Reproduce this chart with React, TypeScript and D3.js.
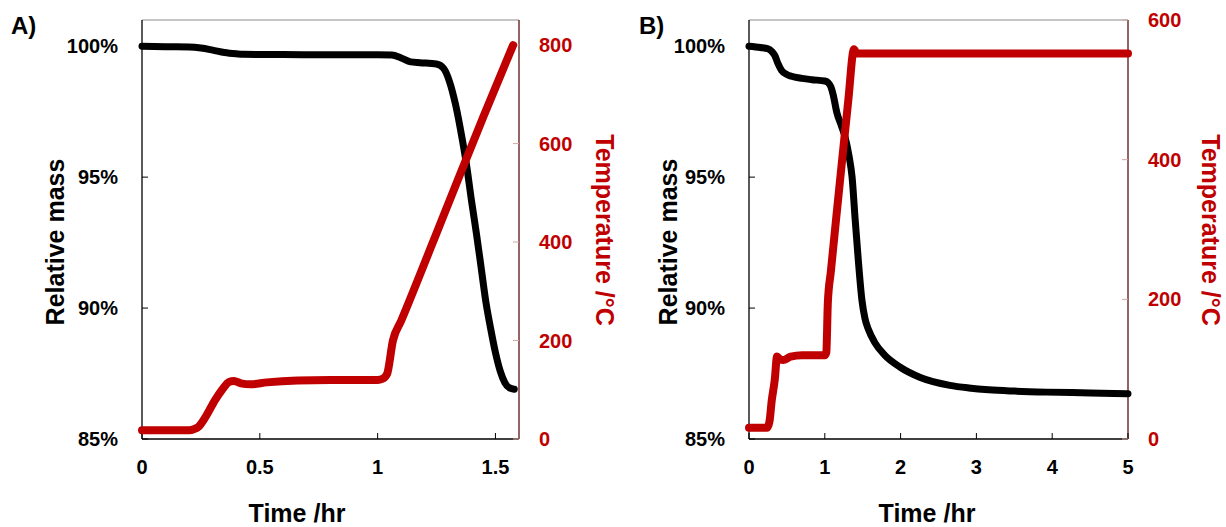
import React from "react";
import * as d3 from "d3";

// ---------- Data ----------
// Panel A: time (hr), relative mass (%)
const massA: [number, number][] = [
  [0, 100.0], [0.1, 99.98], [0.2, 99.97], [0.25, 99.93], [0.3, 99.85], [0.35, 99.76],
  [0.4, 99.71], [0.43, 99.69], [0.6, 99.68], [0.8, 99.67], [1.0, 99.67], [1.06, 99.66],
  [1.1, 99.55], [1.14, 99.4], [1.18, 99.37], [1.25, 99.32], [1.28, 99.15], [1.305, 98.65],
  [1.33, 97.8], [1.36, 96.4], [1.375, 95.6], [1.4, 94.0], [1.42, 92.8], [1.44, 91.5],
  [1.46, 90.2], [1.48, 89.2], [1.5, 88.3], [1.52, 87.6], [1.54, 87.15], [1.56, 86.95], [1.58, 86.9],
];
// Panel A: time (hr), temperature (°C)
const tempA: [number, number][] = [
  [0, 18], [0.2, 18], [0.22, 20], [0.24, 25], [0.27, 45], [0.31, 79], [0.34, 100],
  [0.37, 116], [0.39, 118], [0.42, 113], [0.46, 111], [0.53, 115], [0.66, 119], [0.8, 120],
  [1.0, 120], [1.02, 122], [1.04, 132], [1.065, 200], [1.1, 240], [1.3, 478], [1.45, 656], [1.575, 800],
];
// Panel B: time (hr), relative mass (%)
const massB: [number, number][] = [
  [0, 100.0], [0.15, 99.95], [0.25, 99.9], [0.3, 99.8], [0.34, 99.65], [0.38, 99.35],
  [0.43, 99.07], [0.5, 98.92], [0.56, 98.85], [0.7, 98.77], [0.83, 98.72], [1.0, 98.67],
  [1.04, 98.62], [1.08, 98.45], [1.11, 98.15], [1.16, 97.45], [1.22, 96.95], [1.27, 96.5],
  [1.32, 95.8], [1.36, 95.0], [1.4, 93.4], [1.44, 91.9], [1.49, 90.3], [1.53, 89.6],
  [1.58, 89.15], [1.66, 88.68], [1.79, 88.2], [1.99, 87.75], [2.26, 87.35], [2.65, 87.05],
  [2.9, 86.95], [3.16, 86.88], [3.5, 86.83], [3.92, 86.79], [4.5, 86.76], [5.0, 86.73],
];
// Panel B: time (hr), temperature (°C)
const tempB: [number, number][] = [
  [0, 16], [0.24, 16], [0.27, 25], [0.3, 55], [0.34, 85], [0.37, 118], [0.4, 115],
  [0.45, 113], [0.55, 118], [0.7, 120], [1.0, 120], [1.02, 124], [1.04, 195], [1.08, 240],
  [1.15, 316], [1.23, 401], [1.31, 485], [1.385, 558], [1.42, 552], [2, 552], [3, 552], [4, 552], [5, 552],
];

const massTicks = [85, 90, 95, 100];
const timeTicksA = [0, 0.5, 1, 1.5];
const timeTicksB = [0, 1, 2, 3, 4, 5];
const tempTicksA = [0, 200, 400, 600, 800];
const tempTicksB = [0, 200, 400, 600];

const RED = "#C00000";
const FONT = "'Liberation Sans', Arial, Helvetica, sans-serif";

type PanelProps = {
  left: number;
  right: number;
  label: string;
  labelX: number;
  xMax: number;
  xTicks: number[];
  tMax: number;
  tTicks: number[];
  mass: [number, number][];
  temp: [number, number][];
  xTitleCx: number;
  yTitleCx: number;
  tTitleCx: number;
};

const TOP = 20;
const BOTTOM = 439;

function Panel(p: PanelProps) {
  const x = d3.scaleLinear().domain([0, p.xMax]).range([p.left, p.right]);
  const y = d3.scaleLinear().domain([85, 101]).range([BOTTOM, TOP]);
  const yt = d3.scaleLinear().domain([0, p.tMax]).range([BOTTOM, TOP]);
  const massLine = d3
    .line<[number, number]>()
    .x((d) => x(d[0]))
    .y((d) => y(d[1]))
    .curve(d3.curveMonotoneX);
  const tempLine = d3
    .line<[number, number]>()
    .x((d) => x(d[0]))
    .y((d) => yt(d[1]))
    .curve(d3.curveMonotoneX);
  return (
    <g>
      <text x={p.labelX} y={34} fontSize={24} fontWeight="bold" fontFamily={FONT}>
        {p.label}
      </text>
      {/* frame */}
      <line x1={p.left} x2={p.right} y1={TOP} y2={TOP} stroke="#8c8c8c" strokeWidth={1} />
      <line x1={p.left} x2={p.left} y1={TOP} y2={BOTTOM} stroke="#000" strokeWidth={1.3} />
      <line x1={p.left} x2={p.right} y1={BOTTOM} y2={BOTTOM} stroke="#000" strokeWidth={1.3} />
      <line x1={p.right} x2={p.right} y1={TOP} y2={BOTTOM} stroke="#5a1212" strokeWidth={1.3} />
      {/* left ticks */}
      {massTicks.map((v) => (
        <g key={"m" + v}>
          <line x1={p.left} x2={p.left + 6} y1={y(v)} y2={y(v)} stroke="#000" strokeWidth={1} />
          <text x={p.left - 24} y={y(v)} dy="0.35em" textAnchor="end" fontSize={20} fontWeight="bold" fontFamily={FONT}>
            {v + "%"}
          </text>
        </g>
      ))}
      {/* bottom ticks */}
      {p.xTicks.map((v) => (
        <g key={"x" + v}>
          <line x1={x(v)} x2={x(v)} y1={BOTTOM} y2={BOTTOM - 6} stroke="#000" strokeWidth={1} />
          <text x={x(v)} y={467} dy="0.35em" textAnchor="middle" fontSize={20} fontWeight="bold" fontFamily={FONT}>
            {String(v)}
          </text>
        </g>
      ))}
      {/* right ticks */}
      {p.tTicks.map((v) => (
        <g key={"t" + v}>
          <line x1={p.right} x2={p.right - 6} y1={yt(v)} y2={yt(v)} stroke="#d9a3a3" strokeWidth={1} />
          <text x={p.right + 20} y={yt(v)} dy="0.35em" textAnchor="start" fontSize={20} fontWeight="bold" fontFamily={FONT} fill={RED}>
            {v}
          </text>
        </g>
      ))}
      {/* titles */}
      <text x={p.xTitleCx} y={522} textAnchor="middle" fontSize={25} fontWeight="bold" fontFamily={FONT}>
        Time /hr
      </text>
      <text
        transform={`translate(${p.yTitleCx},242) rotate(-90)`}
        textAnchor="middle"
        dy="0.35em"
        fontSize={25}
        fontWeight="bold"
        fontFamily={FONT}
      >
        Relative mass
      </text>
      <text
        transform={`translate(${p.tTitleCx},230) rotate(90)`}
        textAnchor="middle"
        dy="0.35em"
        fontSize={25}
        fontWeight="bold"
        fontFamily={FONT}
        fill={RED}
      >
        Temperature /°C
      </text>
      {/* data */}
      <path d={massLine(p.mass) || ""} fill="none" stroke="#000" strokeWidth={7} strokeLinecap="round" strokeLinejoin="round" />
      <path d={tempLine(p.temp) || ""} fill="none" stroke={RED} strokeWidth={8} strokeLinecap="round" strokeLinejoin="round" />
    </g>
  );
}

export default function App() {
  return (
    <svg
      width={1226}
      height={527}
      viewBox="0 0 1226 527"
      style={{ position: "absolute", left: 0, top: 0, background: "#fff" }}
    >
      <rect x={0} y={0} width={1226} height={527} fill="#fff" />
      <Panel
        left={142}
        right={519}
        label="A)"
        labelX={11}
        xMax={1.6}
        xTicks={timeTicksA}
        tMax={851}
        tTicks={tempTicksA}
        mass={massA}
        temp={tempA}
        xTitleCx={297}
        yTitleCx={55}
        tTitleCx={605}
      />
      <Panel
        left={749}
        right={1128}
        label="B)"
        labelX={639}
        xMax={5}
        xTicks={timeTicksB}
        tMax={600}
        tTicks={tempTicksB}
        mass={massB}
        temp={tempB}
        xTitleCx={927}
        yTitleCx={668}
        tTitleCx={1211}
      />
    </svg>
  );
}
